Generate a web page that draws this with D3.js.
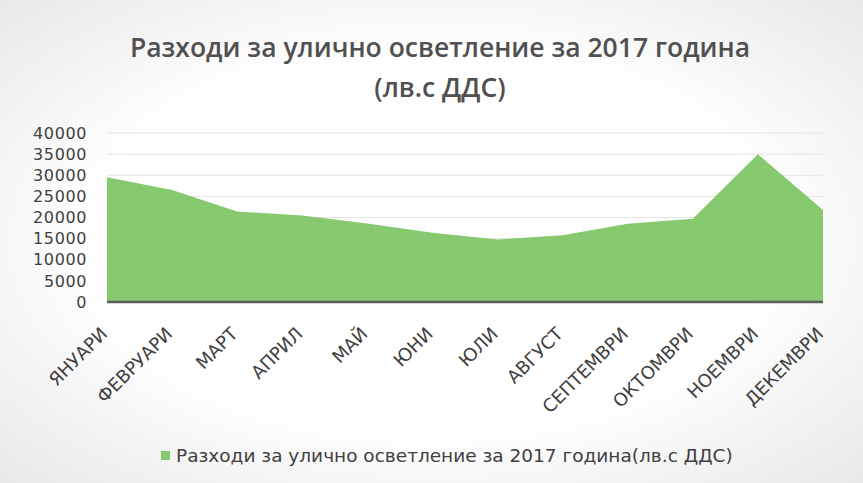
<!DOCTYPE html>
<html>
<head>
<meta charset="utf-8">
<script src="https://cdn.jsdelivr.net/npm/d3@7/dist/d3.min.js"></script>
<style>
  html, body { margin: 0; padding: 0; background: #ffffff; }
  svg { display: block; }
</style>
</head>
<body>
<script>
const months = ["ЯНУАРИ","ФЕВРУАРИ","МАРТ","АПРИЛ","МАЙ","ЮНИ","ЮЛИ","АВГУСТ","СЕПТЕМВРИ","ОКТОМВРИ","НОЕМВРИ","ДЕКЕМВРИ"];
const expenses = [29500, 26500, 21400, 20500, 18600, 16400, 14800, 15800, 18500, 19700, 35000, 21800];
const yTicks = [0, 5000, 10000, 15000, 20000, 25000, 30000, 35000, 40000];
const titleLines = ["Разходи за улично осветление за 2017 година", "(лв.с ДДС)"];
const legendLabel = "Разходи за улично осветление за 2017 година(лв.с ДДС)";

const W = 863, H = 483;
const svg = d3.select("body").append("svg").attr("width", W).attr("height", H);

const defs = svg.append("defs");
const rg = defs.append("radialGradient").attr("id", "bg").attr("cx", "50%").attr("cy", "50%").attr("r", "70%");
rg.append("stop").attr("offset", "55%").attr("stop-color", "#ffffff");
rg.append("stop").attr("offset", "100%").attr("stop-color", "#e9e9e9");
svg.append("rect").attr("width", W).attr("height", H).attr("fill", "url(#bg)");

const x = d3.scalePoint().domain(months).range([107, 823]);
const y = d3.scaleLinear().domain([0, 40000]).range([302, 133]);

// gridlines
svg.append("g").selectAll("line").data(yTicks.filter(d => d > 0)).join("line")
  .attr("x1", 107).attr("x2", 823)
  .attr("y1", d => y(d)).attr("y2", d => y(d))
  .attr("stroke", "#e4e4e4").attr("stroke-width", 1);

// area
const area = d3.area().x((d, i) => x(months[i])).y0(y(0)).y1(d => y(d));
svg.append("path").datum(expenses).attr("d", area).attr("fill", "#86c96f");

// baseline
svg.append("line").attr("x1", 107).attr("x2", 823).attr("y1", y(0)).attr("y2", y(0))
  .attr("stroke", "#5a5f5a").attr("stroke-width", 2.5);

// y axis labels
const yAxis = d3.axisLeft(y).tickValues(yTicks).tickSize(0).tickPadding(0).tickFormat(d3.format("d"));
const yg = svg.append("g").attr("transform", "translate(87,0)").call(yAxis);
yg.select(".domain").remove();
yg.selectAll("text").attr("font-family", "'DejaVu Sans', sans-serif").attr("font-size", 16)
  .attr("letter-spacing", "0.6px").attr("fill", "#404040");

// x axis labels
const xAxis = d3.axisBottom(x).tickSize(0).tickPadding(0);
const xg = svg.append("g").attr("transform", "translate(0," + y(0) + ")").call(xAxis);
xg.select(".domain").remove();
xg.selectAll("text")
  .attr("font-family", "'DejaVu Sans', sans-serif").attr("font-size", 18).attr("fill", "#404040")
  .attr("text-anchor", "end")
  .attr("dy", "0")
  .attr("transform", "translate(1,33) rotate(-45)");

// title
svg.append("g").selectAll("text").data(titleLines).join("text")
  .attr("x", 440).attr("y", (d, i) => 57 + i * 40)
  .attr("text-anchor", "middle")
  .attr("font-family", "'Open Sans', sans-serif").attr("font-weight", 600)
  .attr("font-size", 26.5).attr("fill", "#505050")
  .text(d => d);

// legend
const lg = svg.append("g");
lg.append("rect").attr("x", 161).attr("y", 451).attr("width", 9).attr("height", 9).attr("fill", "#86c96f");
lg.append("text").attr("x", 176).attr("y", 462)
  .attr("font-family", "'DejaVu Sans', sans-serif").attr("font-size", 18.5).attr("fill", "#404040")
  .text(legendLabel);
</script>
</body>
</html>
